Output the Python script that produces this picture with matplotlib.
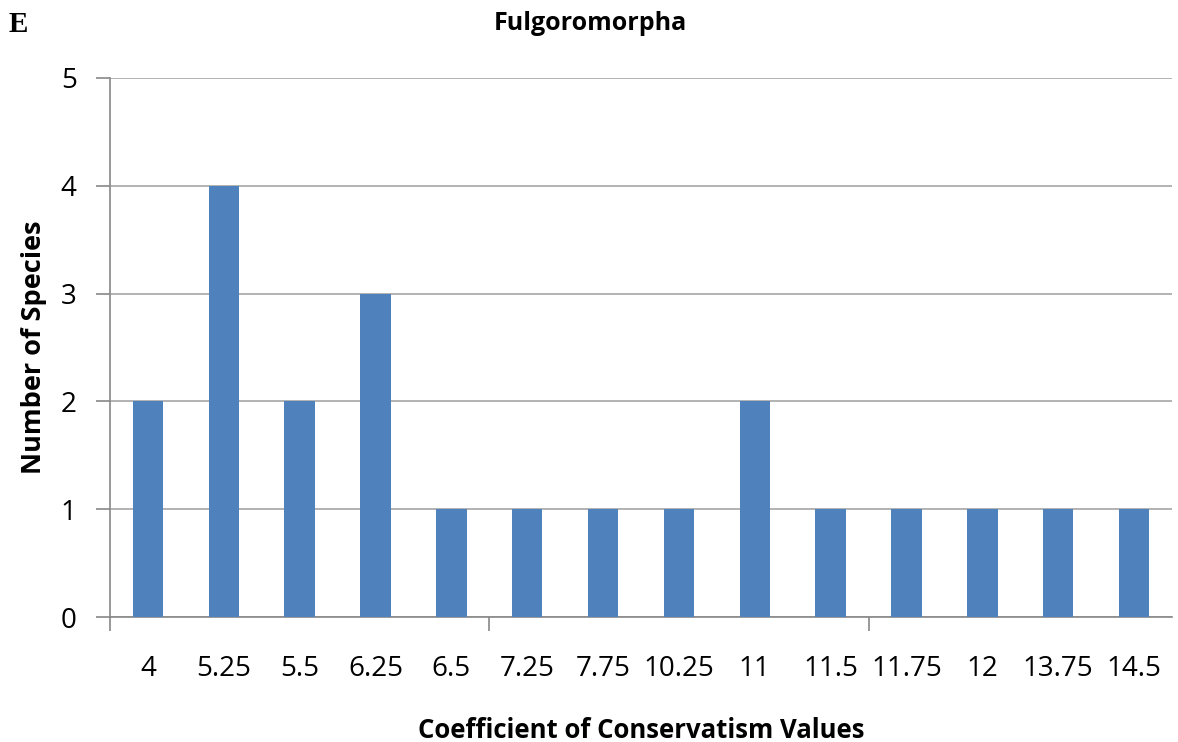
import matplotlib.pyplot as plt
import numpy as np

categories = ['4', '5.25', '5.5', '6.25', '6.5', '7.25', '7.75', '10.25',
              '11', '11.5', '11.75', '12', '13.75', '14.5']
counts = [2, 4, 2, 3, 1, 1, 1, 1, 2, 1, 1, 1, 1, 1]

plt.rcParams['font.family'] = ['Open Sans', 'DejaVu Sans']

fig = plt.figure(figsize=(11.78, 7.42), dpi=100)
ax = fig.add_axes([110/1178, 125/742, 1062/1178, 539/742])

x = np.arange(len(categories)) + 0.5
ax.bar(x, counts, width=0.4, color='#4F81BD', zorder=3)

ax.set_xlim(0, len(categories))
ax.set_ylim(0, 5)
ax.set_yticks(range(6))
ax.yaxis.grid(True, color='#A6A6A6', linewidth=1.2, zorder=0)

# category labels without ticks, major ticks every 5 categories
ax.set_xticks([0, 5, 10])
ax.set_xticklabels([])
ax.set_xticks(x, minor=True)
ax.set_xticklabels(categories, minor=True)
ax.tick_params(axis='x', which='minor', length=0, pad=27, labelsize=20)
ax.tick_params(axis='x', which='major', length=10, color='#888888', width=1.2)
ax.tick_params(axis='y', length=10, color='#888888', width=1.2, labelsize=20, pad=14)

for s in ['top', 'right']:
    ax.spines[s].set_visible(False)
for s in ['left', 'bottom']:
    ax.spines[s].set_color('#888888')
    ax.spines[s].set_linewidth(1.2)

ax.set_xlabel('Coefficient of Conservatism Values', fontsize=18.5, fontweight='bold', labelpad=25)
ax.set_ylabel('Number of Species', fontsize=19.5, fontweight='bold', labelpad=10)
fig.text(590/1178, 1 - 24/742, 'Fulgoromorpha', fontsize=18, fontweight='bold', ha='center', va='center')
fig.text(9/1178, 1 - 25/742, 'E', fontsize=21, fontweight='bold', family='Liberation Serif', ha='left', va='center')

plt.savefig('out.png', dpi=100)
